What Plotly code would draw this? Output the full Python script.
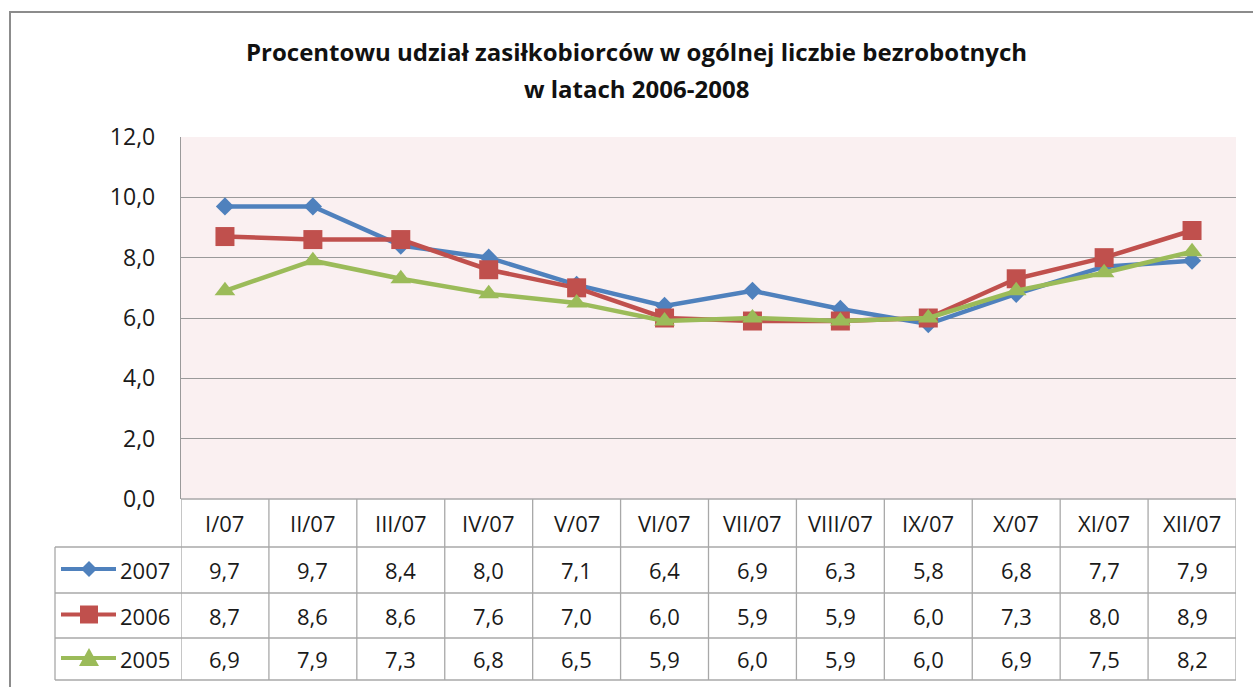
import plotly.graph_objects as go

W, H = 1253, 687

categories = ["I/07", "II/07", "III/07", "IV/07", "V/07", "VI/07",
              "VII/07", "VIII/07", "IX/07", "X/07", "XI/07", "XII/07"]
series_names = ["2007", "2006", "2005"]
values_2007 = [9.7, 9.7, 8.4, 8.0, 7.1, 6.4, 6.9, 6.3, 5.8, 6.8, 7.7, 7.9]
values_2006 = [8.7, 8.6, 8.6, 7.6, 7.0, 6.0, 5.9, 5.9, 6.0, 7.3, 8.0, 8.9]
values_2005 = [6.9, 7.9, 7.3, 6.8, 6.5, 5.9, 6.0, 5.9, 6.0, 6.9, 7.5, 8.2]
title_line1 = "Procentowu udział zasiłkobiorców w ogólnej liczbie bezrobotnych"
title_line2 = "w latach 2006-2008"

colors = ["#4F81BD", "#C0504D", "#9BBB59"]
symbols = ["diamond", "square", "triangle-up"]
sizes = [14, 19, 18]
all_values = [values_2007, values_2006, values_2005]

FONT = "Open Sans"
GRID = "#9A9A9A"
TGRID = "#A8A8A8"


def px(x):
    return x / W


def py(y):
    return 1 - y / H


PL, PR, PT, PB = 181, 1236, 137, 499
ROWS = [499, 547, 593, 638, 680]
LEG_L = 55

fig = go.Figure()
for name, vals, c, s, sz in zip(series_names, all_values, colors, symbols, sizes):
    fig.add_trace(go.Scatter(
        x=categories, y=vals, name=name, mode="lines+markers",
        line=dict(color=c, width=4.5),
        marker=dict(symbol=s, size=sz, color=c, line=dict(width=0)),
        showlegend=False, cliponaxis=False,
    ))

shapes = []
annotations = []

# outer chart border (continues past the right and bottom edges)
shapes.append(dict(type="rect", xref="paper", yref="paper",
                   x0=px(10), x1=px(W + 20), y0=py(12), y1=py(H + 20),
                   line=dict(color="#8C8C8C", width=2), fillcolor="rgba(0,0,0,0)",
                   layer="below"))

# data table grid
shapes.append(dict(type="line", xref="paper", yref="paper",
                   x0=px(PL), x1=px(PR), y0=py(ROWS[0]), y1=py(ROWS[0]),
                   line=dict(color=TGRID, width=1.3)))
for r in ROWS[1:]:
    shapes.append(dict(type="line", xref="paper", yref="paper",
                       x0=px(LEG_L), x1=px(PR), y0=py(r), y1=py(r),
                       line=dict(color=TGRID, width=1.3)))
shapes.append(dict(type="line", xref="paper", yref="paper",
                   x0=px(LEG_L), x1=px(LEG_L), y0=py(ROWS[1]), y1=py(ROWS[-1]),
                   line=dict(color=TGRID, width=1.3)))
for i in range(len(categories) + 1):
    shapes.append(dict(type="line", xref="x", yref="paper",
                       x0=i - 0.5, x1=i - 0.5, y0=py(ROWS[0]), y1=py(ROWS[-1]),
                       line=dict(color=TGRID, width=1.3)))

TXT = dict(family=FONT, size=22, color="#1a1a1a")
hy = py((ROWS[0] + ROWS[1]) / 2)
for c in categories:
    annotations.append(dict(x=c, y=hy, xref="x", yref="paper", text=c,
                            yanchor="middle", showarrow=False, font=TXT))

for k, (name, vals, col, sym) in enumerate(zip(series_names, all_values, colors, symbols)):
    yc = (ROWS[k + 1] + ROWS[k + 2]) / 2
    for c, v in zip(categories, vals):
        annotations.append(dict(x=c, y=py(yc), xref="x", yref="paper",
                                text=f"{v:.1f}".replace(".", ","), showarrow=False,
                                yanchor="middle", font=TXT))
    # legend key: line + marker
    shapes.append(dict(type="line", xref="paper", yref="paper",
                       x0=px(61), x1=px(116), y0=py(yc - 1), y1=py(yc - 1),
                       line=dict(color=col, width=4)))
    cx, cy = 89, yc - 1
    if sym == "diamond":
        d = 8
        path = (f"M {px(cx)} {py(cy - d)} L {px(cx + d)} {py(cy)} "
                f"L {px(cx)} {py(cy + d)} L {px(cx - d)} {py(cy)} Z")
    elif sym == "square":
        d = 9
        path = (f"M {px(cx - d)} {py(cy - d)} L {px(cx + d)} {py(cy - d)} "
                f"L {px(cx + d)} {py(cy + d)} L {px(cx - d)} {py(cy + d)} Z")
    else:
        d = 10
        path = (f"M {px(cx)} {py(cy - d)} L {px(cx + d)} {py(cy + 8)} "
                f"L {px(cx - d)} {py(cy + 8)} Z")
    shapes.append(dict(type="path", xref="paper", yref="paper", path=path,
                       fillcolor=col, line=dict(width=0)))
    annotations.append(dict(x=px(118), y=py(yc), xref="paper", yref="paper",
                            text=name, showarrow=False, xanchor="left",
                            yanchor="middle", font=TXT))

TITLE = dict(family=FONT, size=24, color="#111")
annotations.append(dict(x=px(636), y=py(52), xref="paper", yref="paper",
                        text=f"<b>{title_line1}</b>", showarrow=False, yanchor="middle",
                        font=TITLE))
annotations.append(dict(x=px(636), y=py(88), xref="paper", yref="paper",
                        text=f"<b>{title_line2}</b>", showarrow=False, yanchor="middle",
                        font=TITLE))

fig.update_layout(
    width=W, height=H, autosize=False,
    margin=dict(l=0, r=0, t=0, b=0, pad=0, autoexpand=False),
    paper_bgcolor="white", plot_bgcolor="#FAF0F1",
    separators=", ",
    shapes=shapes, annotations=annotations,
    xaxis=dict(type="category", categoryarray=categories, range=[-0.5, 11.5],
               domain=[px(PL), px(PR)], showticklabels=False, showgrid=False,
               zeroline=False, showline=False, ticks="", automargin=False),
    yaxis=dict(range=[0, 12], dtick=2, tickformat=".1f",
               domain=[py(PB), py(PT)], showgrid=True, gridcolor=GRID, gridwidth=1.3,
               zeroline=False, showline=True, linecolor=GRID, linewidth=1.3,
               ticks="", ticklabelstandoff=20, automargin=False,
               tickfont=dict(family=FONT, size=23, color="#1a1a1a")),
)

fig.write_html("out.html", config={"displayModeBar": False},
               post_script="document.body.style.margin='0';")
